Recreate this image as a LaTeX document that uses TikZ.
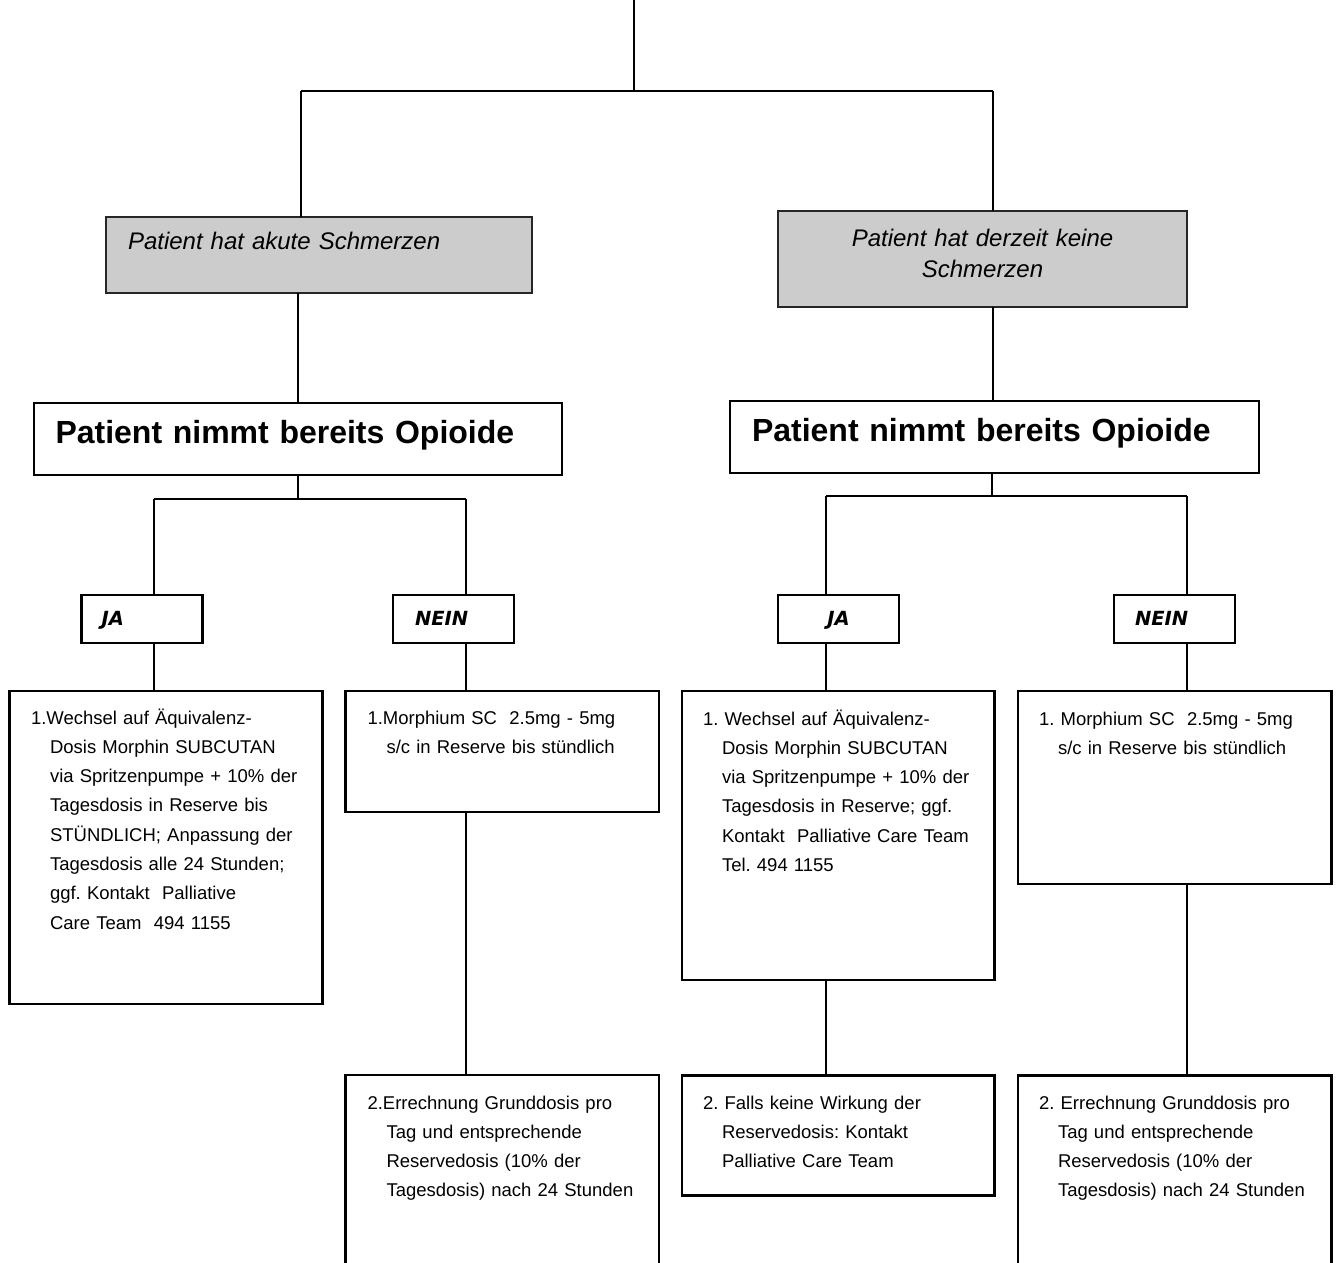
\documentclass[tikz,border=0pt]{standalone}
\usepackage{fontspec}
\setmainfont{Liberation Sans}
\newfontfamily\verdana{DejaVu Sans}
\frenchspacing
\newcommand{\schrift}[2]{\fontsize{#1}{#2}\selectfont}
\newcommand{\einzug}[1]{\leftskip=#1\relax\hspace*{-19pt}}
\definecolor{grau}{RGB}{204,204,204}
\tikzset{kasten/.style={draw,line width=2.6pt,anchor=north west,inner sep=0pt,outer sep=0pt,align=left}}
\tikzset{grauKasten/.style={kasten,fill=grau,draw=black!85,line width=1.6pt,font=\schrift{24pt}{30.7pt}\itshape}}
\tikzset{opioKasten/.style={kasten,font=\schrift{32pt}{38pt}\bfseries}}
\tikzset{antwort/.style={kasten,text width=121pt,text height=30pt,text depth=18pt,font=\verdana\schrift{19.5pt}{23pt}\bfseries\itshape}}
\tikzset{inhalt/.style={kasten,font=\schrift{18.5pt}{29.3pt}}}
\tikzset{linie/.style={line width=2pt}}
\tikzset{duenn/.style={line width=1.4pt}}

\begin{document}
\begin{tikzpicture}[x=1pt,y=-1pt]

\useasboundingbox (0,0) rectangle (1338,1263);

% obere Ebene
\node[grauKasten,text width=426pt,text height=32.6pt,text depth=43.4pt] (grauL) at (106,217) {\leftskip=22pt Patient hat akute Schmerzen\par};
\node[grauKasten,align=center,text width=409pt,text height=35.6pt,text depth=60.4pt] (grauR) at (778,211) {Patient hat derzeit keine\\Schmerzen};

\node[opioKasten,text width=528pt,text height=40.7pt,text depth=31.3pt] (opiL) at (34,403) {\leftskip=21.5pt Patient nimmt bereits Opioide\par};
\node[opioKasten,text width=529pt,text height=40.6pt,text depth=31.4pt] (opiR) at (730,401) {\leftskip=22pt Patient nimmt bereits Opioide\par};

% JA / NEIN
\node[antwort] (jaL) at (81.5,595) {\leftskip=20pt JA\par};
\node[antwort] (neinL) at (393,595) {\leftskip=22pt NEIN\par};
\node[antwort,align=center] (jaR) at (778,595) {JA};
\node[antwort] (neinR) at (1114,595) {\leftskip=21pt NEIN\par};

% Inhalte links
\node[inhalt,text width=313pt,text height=33pt,text depth=280pt] (txtJaL) at (9.5,691)
  {\einzug{40.5pt}1.Wechsel auf Äquivalenz-\\Dosis Morphin SUBCUTAN\\via Spritzenpumpe + 10\% der\\Tagesdosis in Reserve bis\\STÜNDLICH; Anpassung der\\Tagesdosis alle 24 Stunden;\\ggf. Kontakt~ Palliative\\Care Team~ 494 1155\par};
\node[inhalt,text width=313.5pt,text height=33pt,text depth=88pt] (txtNeinL) at (345.5,691)
  {\einzug{41pt}1.Morphium SC~ 2.5mg - 5mg\\s/c in Reserve bis stündlich\par};
\node[inhalt,text width=313.5pt,text height=34pt,text depth=170pt] (txtNeinL2) at (345.5,1075)
  {\einzug{41pt}2.Errechnung Grunddosis pro\\Tag und entsprechende\\Reservedosis (10\% der\\Tagesdosis) nach 24 Stunden\par};

% Inhalte rechts
\node[inhalt,text width=312.5pt,text height=34pt,text depth=255pt] (txtJaR) at (682,691)
  {\einzug{40pt}1. Wechsel auf Äquivalenz-\\Dosis Morphin SUBCUTAN\\via Spritzenpumpe + 10\% der\\Tagesdosis in Reserve; ggf.\\Kontakt~ Palliative Care Team\\Tel. 494 1155\par};
\node[inhalt,text width=312.5pt,text height=33.5pt,text depth=86.5pt] (txtJaR2) at (682,1075.5)
  {\einzug{40pt}2. Falls keine Wirkung der\\Reservedosis: Kontakt\\Palliative Care Team\par};
\node[inhalt,text width=313.5pt,text height=34pt,text depth=159pt] (txtNeinR) at (1018,691)
  {\einzug{40pt}1. Morphium SC~ 2.5mg - 5mg\\s/c in Reserve bis stündlich\par};
\node[inhalt,text width=313.5pt,text height=33.5pt,text depth=170pt] (txtNeinR2) at (1018,1075.5)
  {\einzug{40pt}2. Errechnung Grunddosis pro\\Tag und entsprechende\\Reservedosis (10\% der\\Tagesdosis) nach 24 Stunden\par};

% Verbindungen
\coordinate (oben) at (634,0);
\coordinate (gabel) at (634,91);
\coordinate (astL) at (301,91);
\coordinate (astR) at (993,91);
\coordinate (gabelL1) at (154,499);
\coordinate (gabelL2) at (466,499);
\coordinate (gabelR1) at (826,496);
\coordinate (gabelR2) at (1187,496);

\draw[linie] (oben) -- (gabel);
\draw[linie] (astL) -- (astR);
\draw[linie] (astL) -- (astL |- grauL.north);
\draw[linie] (astR) -- (astR |- grauR.north);
\draw[linie] (grauL.south -| opiL.north) -- (opiL.north);
\draw[linie] (grauR.south -| astR) -- (opiR.north -| astR);

\draw[linie] (opiL.south) -- (opiL.south |- gabelL1);
\draw[linie] (gabelL1) -- (gabelL2);
\draw[linie] (gabelL1) -- (gabelL1 |- jaL.north);
\draw[linie] (gabelL2) -- (gabelL2 |- neinL.north);
\draw[linie] (gabelL1 |- jaL.south) -- (gabelL1 |- txtJaL.north);
\draw[linie] (gabelL2 |- neinL.south) -- (gabelL2 |- txtNeinL.north);
\draw[linie] (gabelL2 |- txtNeinL.south) -- (gabelL2 |- txtNeinL2.north);

\draw[duenn] (opiR.south -| 992,0) -- (992,496);
\draw[duenn] (gabelR1) -- (gabelR2);
\draw[duenn] (gabelR1) -- (gabelR1 |- jaR.north);
\draw[duenn] (gabelR2) -- (gabelR2 |- neinR.north);
\draw[duenn] (gabelR1 |- jaR.south) -- (gabelR1 |- txtJaR.north);
\draw[duenn] (gabelR2 |- neinR.south) -- (gabelR2 |- txtNeinR.north);
\draw[duenn] (gabelR1 |- txtJaR.south) -- (gabelR1 |- txtJaR2.north);
\draw[duenn] (gabelR2 |- txtNeinR.south) -- (gabelR2 |- txtNeinR2.north);

\end{tikzpicture}
\end{document}
